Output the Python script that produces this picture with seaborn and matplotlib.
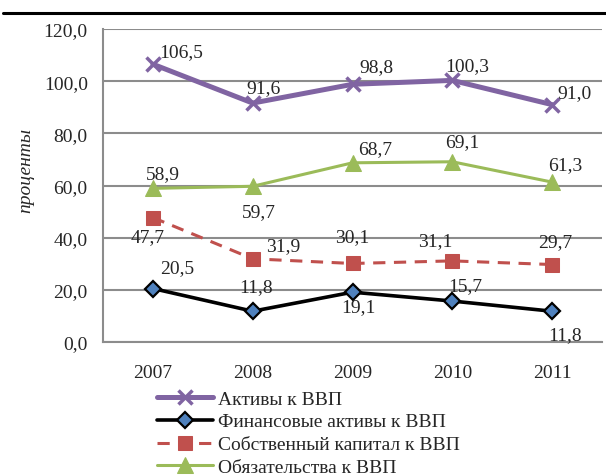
import matplotlib
matplotlib.use("Agg")
import matplotlib.pyplot as plt
import seaborn as sns
import pandas as pd
import numpy as np
from matplotlib.lines import Line2D

sns.set_style("white")
plt.rcParams['font.family'] = ['Liberation Serif', 'DejaVu Serif']

years = ["2007", "2008", "2009", "2010", "2011"]
assets = [106.5, 91.6, 98.8, 100.3, 91.0]
fin_assets = [20.5, 11.8, 19.1, 15.7, 11.8]
equity = [47.7, 31.9, 30.1, 31.1, 29.7]
liabilities = [58.9, 59.7, 68.7, 69.1, 61.3]

names = ["Активы к ВВП", "Финансовые активы к ВВП",
         "Собственный капитал к ВВП", "Обязательства к ВВП"]
series = [assets, fin_assets, equity, liabilities]

# label offsets in pixels (dx, dy)
offsets = [
    [(28, 13), (11, 15), (24, 18), (15, 15), (22, 12)],
    [(24, 21), (3, 25), (6, -14), (13, 15), (13, -23)],
    [(-5, -19), (30, 13), (0, 27), (-17, 20), (3, 23)],
    [(10, 15), (6, -25), (23, 14), (10, 20), (13, 18)],
]

styles = [
    dict(color="#8064A2", marker="x", markersize=10, mec="#8064A2", mew=2.5, lw=3.6),
    dict(color="black", marker="D", markersize=8, mfc="#4F81BD", mec="black", mew=1.6, lw=2.6),
    dict(color="#C0504D", marker="s", markersize=10, mec="#C0504D", lw=2.2, dashes=(4, 2.8)),
    dict(color="#9BBB59", marker="^", markersize=11, mec="#9BBB59", lw=2.2),
]

df = pd.DataFrame({
    "pos": np.tile(np.arange(len(years)), len(names)),
    "value": np.concatenate(series),
    "series": np.repeat(names, len(years)),
})

fig = plt.figure(figsize=(6.06, 4.77), dpi=100)
ax = fig.add_axes([103/606, 1-343/477, 499/606, 313/477])

grid_c = "#8C8C8C"
for i, name in enumerate(names):
    sub = df[df["series"] == name]
    st = dict(styles[i])
    dashes = st.pop("dashes", None)
    sns.lineplot(data=sub, x="pos", y="value", ax=ax, label=name, **st)
    if dashes is not None:
        ax.lines[-1].set_dashes(dashes)

for vals, offs in zip(series, offsets):
    for j, v in enumerate(vals):
        ax.annotate(f"{v:.1f}".replace(".", ","), (j, v), xytext=offs[j],
                    textcoords="offset pixels", ha="center", va="center",
                    fontsize=14, zorder=10)

ax.set_xlim(-0.5, 4.5)
ax.set_ylim(0, 120)
ax.set_yticks(np.arange(0, 121, 20))
ax.set_yticklabels([f"{t:.1f}".replace(".", ",") for t in np.arange(0, 121, 20)])
ax.set_xticks(range(len(years)))
ax.set_xticklabels(years)
ax.tick_params(axis="y", length=0, pad=11, labelsize=14)
ax.tick_params(axis="x", length=0, pad=16, labelsize=14)
ax.yaxis.grid(True, color=grid_c, lw=1.5)
ax.set_axisbelow(True)
ax.set_xlabel("")
ax.set_ylabel("")
for s in ["top", "right"]:
    ax.spines[s].set_visible(False)
for s in ["left", "bottom"]:
    ax.spines[s].set_color(grid_c)
    ax.spines[s].set_linewidth(1.5)
for line in ax.lines:
    line.set_clip_on(False)

fig.text(26/606, 1-170/477, "проценты", rotation=90, ha="center", va="center",
         fontsize=14, style="italic")

handles, labels = ax.get_legend_handles_labels()
ax.legend_.remove()
fig.legend(handles, labels, loc="upper left", bbox_to_anchor=(157/606, 1-391/477),
           frameon=False, fontsize=14, handlelength=2.9, handletextpad=0.25,
           labelspacing=0.27, borderpad=0, borderaxespad=0)

fig.add_artist(Line2D([3/606, 1], [1-14/477, 1-14/477], color="black", lw=2.2,
                      transform=fig.transFigure))

fig.savefig("out.png", dpi=100)
